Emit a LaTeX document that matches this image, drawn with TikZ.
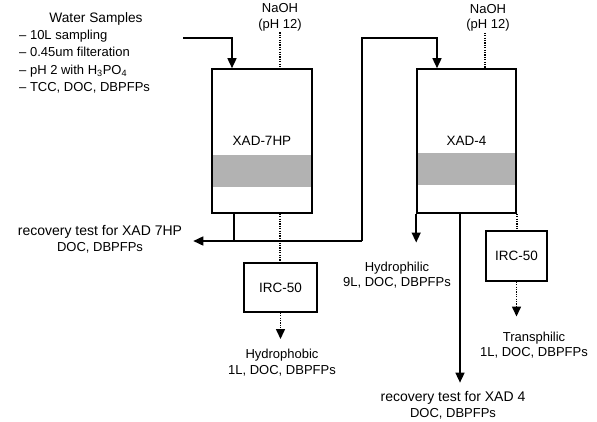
\documentclass[tikz,border=0pt]{standalone}
\usepackage{fontspec}
\setmainfont{Liberation Sans}
\usetikzlibrary{arrows.meta,calc}
\begin{document}
\begin{tikzpicture}[x=1pt,y=-1pt,
  txt/.style={font=\fontsize{13}{15.5}\selectfont, align=center, inner sep=1pt},
  big/.style={font=\fontsize{14}{15.5}\selectfont, align=center, inner sep=1pt},
  colbox/.style={draw, line width=1.6pt, inner sep=0pt, font=\fontsize{13.5}{16}\selectfont},
  wire/.style={line width=1.5pt},
  arr/.style={wire, -{Triangle[length=10pt,width=9pt]}},
  dot/.style={line width=1.5pt, dash pattern=on 1.2pt off 1.2pt},
  darr/.style={dot, -{Triangle[length=10pt,width=9pt]}},
  band/.style={fill=black!30}
]
\useasboundingbox (0,0) rectangle (597,421);

% resin bands
\fill[band] (213,155) rectangle (311,187);
\fill[band] (418,153) rectangle (515,185);

% columns and boxes
\node[colbox, minimum width=100pt, minimum height=144pt] (x7) at (262,141) {XAD-7HP};
\node[colbox, minimum width=99pt, minimum height=144pt] (x4) at (466.5,141) {XAD-4};
\node[colbox, minimum width=73pt, minimum height=49pt] (i1) at (280.5,287.5) {IRC-50};
\node[colbox, minimum width=61pt, minimum height=50pt] (i2) at (516.5,256) {IRC-50};

% texts
\node[txt, font=\fontsize{13.7}{15.5}\selectfont] (ws) at (96,19) {Water Samples};
\node[txt, align=left, anchor=north west, font=\fontsize{13}{17.3}\selectfont] (wl) at (18,29)
  {– 10L sampling\\– 0.45um filteration\\– pH 2 with H\textsubscript{3}PO\textsubscript{4}\\– TCC, DOC, DBPFPs};
\node[txt] (n1) at (280,17.5) {NaOH\\(pH 12)};
\node[txt] (n2) at (488,18) {NaOH\\(pH 12)};
\node[big] (r7) at (100,239.5) {recovery test for XAD 7HP\\{\fontsize{13}{15.5}\selectfont DOC, DBPFPs}};
\node[txt] (hy) at (397,275) {Hydrophilic\\9L, DOC, DBPFPs};
\node[txt] (hb) at (282,362.5) {Hydrophobic\\1L, DOC, DBPFPs};
\node[txt] (tp) at (534,345) {Transphilic\\1L, DOC, DBPFPs};
\node[big] (r4) at (453,405.5) {recovery test for XAD 4\\{\fontsize{13}{15.5}\selectfont DOC, DBPFPs}};

% coordinates
\coordinate (win) at (183,38);
\coordinate (a7) at ([xshift=-30pt]x7.north);
\coordinate (d7) at ([xshift=18pt]x7.north);
\coordinate (e7) at ([xshift=18pt]x7.south);
\coordinate (b7) at ([xshift=-28pt]x7.south);
\coordinate (jr) at (362,241);
\coordinate (a4) at ([xshift=-29.5pt]x4.north);
\coordinate (d4) at ([xshift=18.5pt]x4.north);
\coordinate (b4) at ([xshift=-6.5pt]x4.south);

% XAD-7HP connectors
\draw[arr] (win) -| (a7);
\draw[dot] (n1.south -| d7) -- (d7);
\draw[dot] (e7) -- (i1.north -| e7);
\draw[darr, shorten >=9pt] (i1.south) -- (i1.south |- hb.north);
\draw[wire] (b7) -- (b7 |- jr);
\draw[arr, shorten >=10pt] (jr) -- (r7.east |- jr);
\draw[arr] (jr) -- (jr |- win) -| (a4);

% XAD-4 connectors
\draw[dot] (n2.south -| d4) -- (d4);
\draw[arr, shorten >=18pt] (x4.south west) -- (x4.south west |- hy.north);
\draw[arr, shorten >=8pt] (b4) -- (b4 |- r4.north);
\draw[dot] (x4.south east) -- (x4.south east |- i2.north);
\draw[darr, shorten >=14pt] (i2.south) -- (i2.south |- tp.north);
\end{tikzpicture}
\end{document}
